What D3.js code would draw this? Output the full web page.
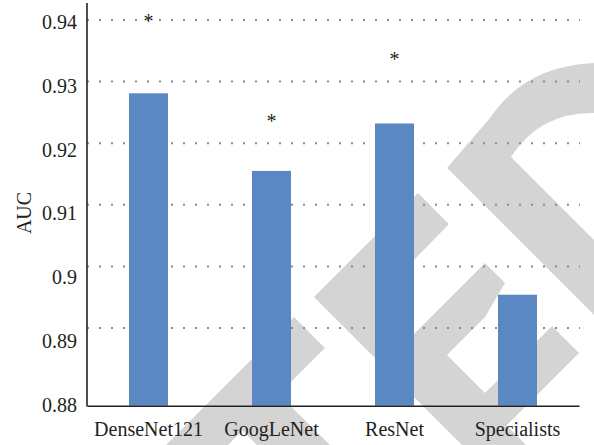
<!DOCTYPE html>
<html>
<head>
<meta charset="utf-8">
<script src="https://cdn.jsdelivr.net/npm/d3@7"></script>
<style>
  html, body { margin: 0; padding: 0; background: #fff; }
  svg text { font-family: 'Liberation Serif', 'DejaVu Serif', serif; fill: #231f20; }
</style>
</head>
<body>
<svg id="chart" width="594" height="445"></svg>
<script>
// data
const models = ['DenseNet121', 'GoogLeNet', 'ResNet', 'Specialists'];
const auc = [0.9281, 0.9155, 0.9232, 0.8954];
// asterisk marks (null = no mark)
const starAt = [0.9402, 0.9239, 0.9340, null];
const yTicks = [0.88, 0.89, 0.90, 0.91, 0.92, 0.93, 0.94];
const yTickLabels = ['0.88', '0.89', '0.9', '0.91', '0.92', '0.93', '0.94'];
const gridTicks = [0.89, 0.90, 0.91, 0.92, 0.93, 0.94];

const width = 594, height = 445;
const margin = { top: 3, right: 15, bottom: 39.3, left: 87 };
const plotBottom = height - margin.bottom;
const serif = "'Liberation Serif', 'DejaVu Serif', serif";

const svg = d3.select('#chart');

// background watermark
const wm = svg.append('g').attr('fill', '#d4d4d4');
const polys = [
  [[294, 317], [325, 348], [228, 445], [166, 445]],
  [[262, 378], [330, 445], [257, 445], [226, 414]],
  [[314, 297], [418, 193], [449, 224], [378, 297], [526, 445], [462, 445]],
  [[485, 263], [505, 283], [485, 317], [447, 355], [485, 393], [523, 355],
   [552, 326], [579, 353], [485, 447], [393, 355]]
];
polys.forEach((p) => {
  wm.append('path').attr('d', d3.line()(p) + 'Z');
});
wm.append('path')
  .attr('d', 'M447,168 L490,118 Q525,66 594,63 L594,113 Q540,112 511,157 L594,240 L594,315 Z');

// scales
const x = d3.scaleBand()
  .domain(models)
  .range([margin.left, width - margin.right])
  .paddingInner(0.683)
  .paddingOuter(0.3415);

const y = d3.scaleLinear()
  .domain([0.88, 0.94])
  .range([389.6, 20]);

// tick labels sit on a slightly taller scale than the grid
const yLab = d3.scaleLinear()
  .domain([0.88, 0.94])
  .range([405, 22]);

// dotted grid
svg.append('g')
  .selectAll('line')
  .data(gridTicks)
  .enter().append('line')
  .attr('x1', margin.left)
  .attr('x2', width - margin.right + 1)
  .attr('y1', (d) => y(d))
  .attr('y2', (d) => y(d))
  .attr('stroke', '#8a8a8a')
  .attr('stroke-width', 2)
  .attr('stroke-dasharray', '2,10');

// bars
svg.selectAll('.bar')
  .data(auc)
  .enter().append('rect')
  .attr('class', 'bar')
  .attr('fill', '#5b87c3')
  .attr('x', (d, i) => x(models[i]))
  .attr('width', x.bandwidth())
  .attr('y', (d) => y(d))
  .attr('height', (d) => plotBottom - y(d));

// asterisks
svg.selectAll('.star')
  .data(starAt.map((v, i) => ({ v, m: models[i] })).filter((d) => d.v !== null))
  .enter().append('text')
  .attr('class', 'star')
  .attr('x', (d) => x(d.m) + x.bandwidth() / 2)
  .attr('y', (d) => y(d.v))
  .attr('dy', '0.46em')
  .attr('text-anchor', 'middle')
  .style('font-size', '20px')
  .text('*');

// y axis
const yAxis = svg.append('g')
  .attr('transform', `translate(${margin.left},0)`)
  .call(d3.axisLeft(yLab).tickValues(yTicks)
    .tickFormat((d, i) => yTickLabels[i]).tickSize(0).tickPadding(10));
yAxis.attr('font-family', serif).attr('font-size', 20);
yAxis.select('.domain').remove();
yAxis.selectAll('text')
  .style('font-family', serif).style('font-size', '20px').style('fill', '#231f20');

svg.append('line')
  .attr('x1', margin.left).attr('x2', margin.left)
  .attr('y1', margin.top).attr('y2', plotBottom + 0.8)
  .attr('stroke', '#222').attr('stroke-width', 1.6);

// x axis
const xAxis = svg.append('g')
  .attr('transform', `translate(0,${plotBottom})`)
  .call(d3.axisBottom(x).tickSize(0).tickPadding(16));
xAxis.attr('font-family', serif).attr('font-size', 20);
xAxis.select('.domain')
  .attr('stroke', '#222').attr('stroke-width', 1.6);
xAxis.selectAll('text')
  .style('font-family', serif).style('font-size', '20px').style('fill', '#231f20');

// axis title
svg.append('text')
  .attr('transform', 'translate(31,213) rotate(-90)')
  .attr('text-anchor', 'middle')
  .style('font-size', '20px')
  .text('AUC');
</script>
</body>
</html>
